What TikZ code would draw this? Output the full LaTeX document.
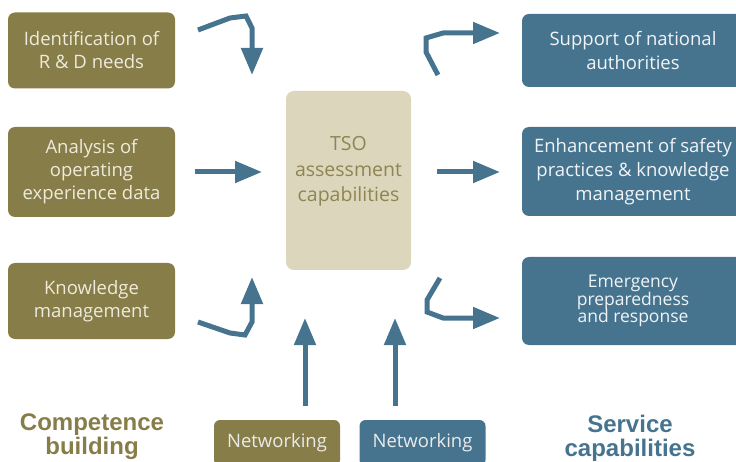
\documentclass[tikz,border=0pt]{standalone}
\usepackage{fontspec}
\setmainfont{Open Sans}
\newfontfamily\headfont{Liberation Sans}
\usetikzlibrary{arrows.meta}
\definecolor{tsoOlive}{HTML}{877D48}
\definecolor{tsoCream}{HTML}{EEEBDC}
\definecolor{tsoBlue}{HTML}{46748F}
\definecolor{tsoSand}{HTML}{DCD6BD}
\definecolor{tsoText}{HTML}{8E8552}
\begin{document}
\begin{tikzpicture}[x=1pt, y=-1pt,
        oldbox/.style={rectangle, rounded corners=7pt, fill=tsoOlive, text=tsoCream, minimum width=167pt, align=center, font=\fontsize{18.5}{23}\selectfont},
        srvbox/.style={rectangle, rounded corners=7pt, fill=tsoBlue, text=white!92!tsoBlue, minimum width=222pt, align=center, font=\fontsize{18.5}{24}\selectfont},
        netbox/.style={rectangle, rounded corners=6pt, minimum width=126pt, minimum height=46pt, text=white!92!black, font=\fontsize{18.5}{22}\selectfont},
        headtxt/.style={align=center, font=\headfont\bfseries\fontsize{24}{24}\selectfont},
        flow/.style={draw=tsoBlue, line width=5pt, -{Triangle[length=27pt, width=21pt]}}
    ]
    \useasboundingbox (0,0) rectangle (736,462);
    \clip (0,0) rectangle (736,462);

    % competence building
    \node[oldbox, minimum height=76pt] (idrd) at (91.5,50.5) {Identification of\\R \& D needs};
    \node[oldbox, minimum height=90pt] (opex) at (91.5,172) {Analysis of\\operating\\experience data};
    \node[oldbox, minimum height=76pt] (know) at (91.5,301) {Knowledge\\management};

    % centre
    \node[rectangle, rounded corners=8pt, fill=tsoSand, minimum width=125pt, minimum height=179pt,
        label={[text=tsoText, align=center, font=\fontsize{19.5}{25.5}\selectfont, yshift=9pt]center:TSO\\assessment\\capabilities}] (tso) at (348.5,180.5) {};

    % service capabilities
    \node[srvbox, minimum height=73pt] (supp) at (633,50.5) {Support of national\\authorities};
    \node[srvbox, minimum height=89pt] (safe) at (633,171.5) {Enhancement of safety\\practices \& knowledge\\management};
    \node[srvbox, minimum height=88pt, font=\fontsize{17.5}{17.5}\selectfont] (emer) at (633,301) {Emergency\\preparedness\\and response};

    % bottom
    \node[netbox, fill=tsoOlive] (netA) at (277,443) {Networking};
    \node[netbox, fill=tsoBlue] (netB) at (422.5,443) {Networking};
    \node[headtxt, text=tsoOlive] (comp) at (92,437) {Competence\\building};
    \node[headtxt, text=tsoBlue] (serv) at (630,438.5) {Service\\capabilities};

    % arrow ends
    \coordinate (a1s) at (198,30);  \coordinate (a1e) at (252,75);
    \coordinate (a2s) at (195,172); \coordinate (a2e) at (262,172);
    \coordinate (a3s) at (198,322); \coordinate (a3e) at (252,277);
    \coordinate (b1s) at (438,75);  \coordinate (b1e) at (500,33);
    \coordinate (b2s) at (437,172); \coordinate (b2e) at (500,172);
    \coordinate (b3s) at (440,278); \coordinate (b3e) at (500,318);
    \coordinate (n1s) at (305,406); \coordinate (n1e) at (305,318);
    \coordinate (n2s) at (395,406); \coordinate (n2e) at (395,318);

    \draw[flow] (a1s) -- (230,18) -- (246,16) -- (252,28) -- (a1e);
    \draw[flow] (a2s) -- (a2e);
    \draw[flow] (a3s) -- (230,333) -- (245,335) -- (252,322) -- (a3e);
    \draw[flow] (b1s) -- (426,52) -- (426,38) -- (443,33) -- (b1e);
    \draw[flow] (b2s) -- (b2e);
    \draw[flow] (b3s) -- (427,300) -- (427,312) -- (443,318) -- (b3e);
    \draw[flow] (n1s) -- (n1e);
    \draw[flow] (n2s) -- (n2e);
\end{tikzpicture}
\end{document}
